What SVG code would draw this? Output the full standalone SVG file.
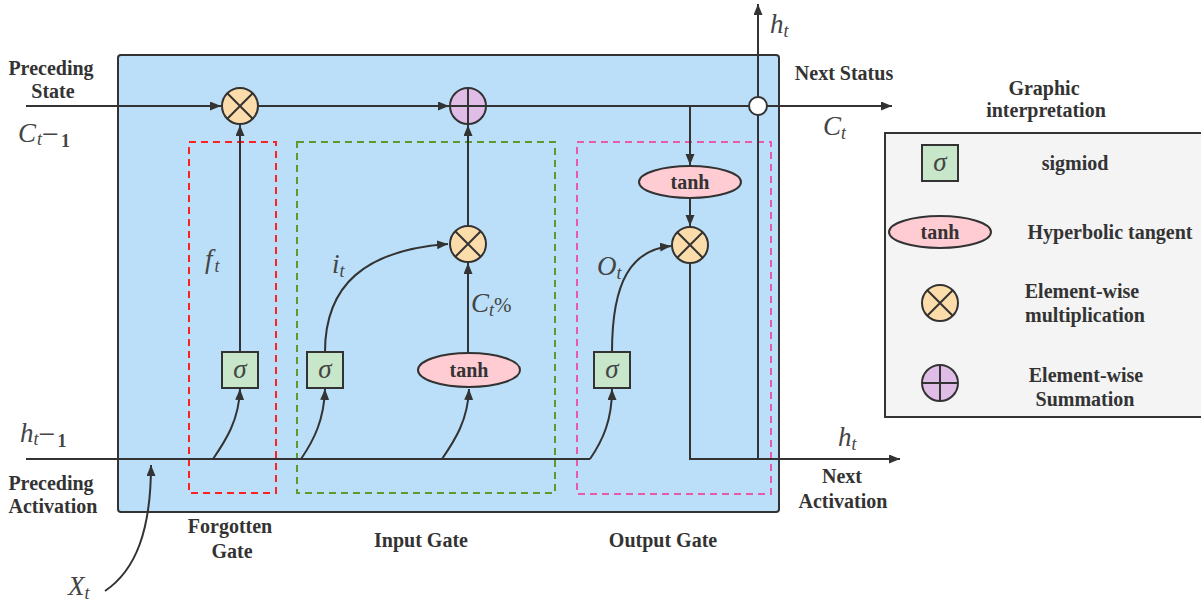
<svg xmlns="http://www.w3.org/2000/svg" width="1201" height="603" viewBox="0 0 1201 603">
  <style>
    .lbl { font-family: "Liberation Serif", "Times New Roman", serif; font-weight: bold; font-size: 20px; fill: #333; text-anchor: middle; }
    .math { font-family: "Liberation Serif", "Times New Roman", serif; font-style: italic; fill: #444; font-size: 27px; }
    .sub { font-size: 18px; }
    .minus { font-style: normal; font-size: 30px; }
    .one { font-style: normal; font-weight: bold; font-size: 18px; }
    .sg { font-family: "Liberation Serif", "Times New Roman", serif; font-style: italic; fill: #444; font-size: 27px; text-anchor: middle; }
    .wire { fill: none; stroke: #333; stroke-width: 2; }
    .arr { marker-end: url(#ah); }
    .mul { fill: #fddcab; stroke: #333; stroke-width: 2; }
    .add { fill: #e0bde6; stroke: #333; stroke-width: 2; }
    .sig { fill: #c8e6c9; stroke: #333; stroke-width: 2; }
    .th { fill: #ffccd4; stroke: #333; stroke-width: 2; }
    .gate { fill: none; stroke-width: 2; stroke-dasharray: 7 5; }
  </style>
  <defs>
    <marker id="ah" markerUnits="userSpaceOnUse" markerWidth="12" markerHeight="10" refX="11" refY="4.5" orient="auto">
      <path d="M0,0 L11,4.5 L0,9 z" fill="#333"/>
    </marker>
  </defs>

  <rect width="1201" height="603" fill="#fff"/>

  <!-- cell body -->
  <rect id="cell" x="118" y="55" width="661" height="457" rx="3" fill="#bbdff8" stroke="#333" stroke-width="2"/>

  <!-- gate regions -->
  <g id="gates">
    <rect class="gate" x="189" y="142" width="87" height="351" stroke="#ff2020"/>
    <rect class="gate" x="297" y="142" width="258" height="351" stroke="#5c9a2c"/>
    <rect class="gate" x="577" y="142" width="194" height="352" stroke="#e85aa8"/>
  </g>

  <!-- connectors -->
  <g id="connectors">
    <path class="wire arr" d="M26,106 H221"/>
    <path class="wire arr" d="M258,106 H449"/>
    <path class="wire" d="M486,106 H750"/>
    <path class="wire arr" d="M766,106 H892"/>
    <path class="wire arr" d="M240,352 V125"/>
    <path class="wire arr" d="M468,353 V263"/>
    <path class="wire arr" d="M468,226 V125"/>
    <path class="wire arr" d="M690,106 V165"/>
    <path class="wire arr" d="M690,198 V226"/>
    <path class="wire arr" d="M690,263 V459 H900"/>
    <path class="wire arr" d="M758,459 V4"/>
    <path class="wire" d="M26,459 H590"/>
    <path class="wire arr" d="M213,459 C226,440 239,420 240,389"/>
    <path class="wire arr" d="M301,459 C314,440 324,420 325,389"/>
    <path class="wire arr" d="M442,459 C455,440 468,420 469,389"/>
    <path class="wire arr" d="M590,459 C603,440 612,420 612,389"/>
    <path class="wire arr" d="M325,352 C325,285 365,250 448,244"/>
    <path class="wire arr" d="M612,352 C612,280 632,250 671,246"/>
    <path class="wire arr" d="M105,591 C136,570 151,530 151,465"/>
  </g>

  <!-- forget gate -->
  <g id="forget-mul">
    <circle class="mul" cx="240" cy="106" r="18"/>
    <path class="wire" d="M227.3,93.3 L252.7,118.7 M252.7,93.3 L227.3,118.7"/>
  </g>
  <g id="forget-sigmoid">
    <rect class="sig" x="222" y="352" width="36" height="36"/>
    <text class="sg" x="240" y="378">σ</text>
  </g>

  <!-- input gate -->
  <g id="cell-add">
    <circle class="add" cx="468" cy="106" r="18"/>
    <path class="wire" d="M450,106 H486 M468,88 V124"/>
  </g>
  <g id="input-mul">
    <circle class="mul" cx="468" cy="244" r="18"/>
    <path class="wire" d="M455.3,231.3 L480.7,256.7 M480.7,231.3 L455.3,256.7"/>
  </g>
  <g id="input-sigmoid">
    <rect class="sig" x="307" y="352" width="36" height="36"/>
    <text class="sg" x="325" y="378">σ</text>
  </g>
  <g id="input-tanh">
    <ellipse class="th" cx="469" cy="370" rx="51" ry="17"/>
    <text class="lbl" x="469" y="377">tanh</text>
  </g>

  <!-- output gate -->
  <g id="output-tanh">
    <ellipse class="th" cx="690" cy="182" rx="51" ry="16"/>
    <text class="lbl" x="690" y="189">tanh</text>
  </g>
  <g id="output-mul">
    <circle class="mul" cx="690" cy="245" r="18"/>
    <path class="wire" d="M677.3,232.3 L702.7,257.7 M702.7,232.3 L677.3,257.7"/>
  </g>
  <g id="output-sigmoid">
    <rect class="sig" x="594" y="352" width="36" height="36"/>
    <text class="sg" x="612" y="378">σ</text>
  </g>
  <g id="junction">
    <circle cx="758" cy="106" r="9" fill="#fff" stroke="#333" stroke-width="2"/>
  </g>

  <!-- signal labels -->
  <g id="math-labels">
    <text class="math" x="18" y="142">C<tspan class="sub" dx="1" dy="3">t</tspan><tspan class="minus" dy="-1">−</tspan><tspan class="one" dx="2" dy="3">1</tspan></text>
    <text class="math" x="20" y="442">h<tspan class="sub" dy="3">t</tspan><tspan class="minus" dy="-1">−</tspan><tspan class="one" dx="2" dy="3">1</tspan></text>
    <text class="math" x="770" y="33">h<tspan class="sub" dy="4">t</tspan></text>
    <text class="math" x="823" y="135">C<tspan class="sub" dy="4">t</tspan></text>
    <text class="math" x="838" y="446">h<tspan class="sub" dy="4">t</tspan></text>
    <text class="math" x="68" y="595">X<tspan class="sub" dy="4">t</tspan></text>
    <text class="math" x="205" y="268">f<tspan class="sub" dx="2" dy="4">t</tspan></text>
    <text class="math" x="332" y="273">i<tspan class="sub" dy="4">t</tspan></text>
    <text class="math" x="597" y="275">O<tspan class="sub" dy="4">t</tspan></text>
    <text class="math" x="471" y="312">C<tspan class="sub" dy="4">t</tspan><tspan font-style="normal" font-size="21" dy="-4">%</tspan></text>
  </g>

  <!-- text labels -->
  <g id="labels">
    <text class="lbl" x="51" y="75">Preceding</text>
    <text class="lbl" x="53" y="98">State</text>
    <text class="lbl" x="844" y="80">Next Status</text>
    <text class="lbl" x="51" y="490">Preceding</text>
    <text class="lbl" x="53" y="513">Activation</text>
    <text class="lbl" x="230" y="533">Forgotten</text>
    <text class="lbl" x="232" y="558">Gate</text>
    <text class="lbl" x="421" y="547">Input Gate</text>
    <text class="lbl" x="663" y="547">Output Gate</text>
    <text class="lbl" x="842" y="483">Next</text>
    <text class="lbl" x="843" y="508">Activation</text>
  </g>

  <!-- legend -->
  <g id="legend">
    <text class="lbl" x="1044" y="95">Graphic</text>
    <text class="lbl" x="1046" y="117">interpretation</text>
    <rect x="885" y="133" width="330" height="284" fill="#f4f4f4" stroke="#333" stroke-width="2"/>
    <rect class="sig" x="922" y="145" width="36" height="36"/>
    <text class="sg" x="940" y="171">σ</text>
    <text class="lbl" x="1075" y="170">sigmiod</text>
    <ellipse class="th" cx="940" cy="232" rx="51" ry="16"/>
    <text class="lbl" x="940" y="239">tanh</text>
    <text class="lbl" x="1110" y="239">Hyperbolic tangent</text>
    <circle class="mul" cx="940" cy="303" r="18"/>
    <path class="wire" d="M927.3,290.3 L952.7,315.7 M952.7,290.3 L927.3,315.7"/>
    <text class="lbl" x="1082" y="298">Element-wise</text>
    <text class="lbl" x="1085" y="322">multiplication</text>
    <circle class="add" cx="940" cy="383" r="18"/>
    <path class="wire" d="M922,383 H958 M940,365 V401"/>
    <text class="lbl" x="1086" y="382">Element-wise</text>
    <text class="lbl" x="1085" y="406">Summation</text>
  </g>
</svg>
